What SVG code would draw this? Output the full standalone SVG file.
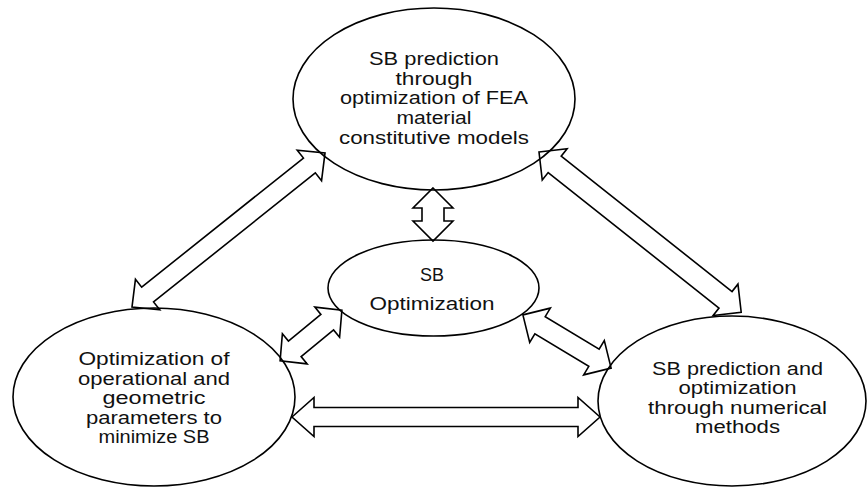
<svg xmlns="http://www.w3.org/2000/svg" width="868" height="488" viewBox="0 0 868 488">
<style>
.node ellipse{fill:#fff;stroke:#000;stroke-width:1.6}
.node text{font-family:"Liberation Sans",Arial,sans-serif;font-size:17.5px;fill:#111;text-anchor:middle}
.arrow{fill:none;stroke:#000;stroke-width:1.6;stroke-linejoin:miter}
</style>
<rect width="868" height="488" fill="#fff"/>
<g id="node-top" class="node">
<ellipse cx="434" cy="99" rx="141" ry="91"/>
<text x="434" y="65" textLength="130" lengthAdjust="spacingAndGlyphs">SB prediction</text>
<text x="434" y="84.7" textLength="77" lengthAdjust="spacingAndGlyphs">through</text>
<text x="434" y="104.4" textLength="188" lengthAdjust="spacingAndGlyphs">optimization of FEA</text>
<text x="434" y="124.1" textLength="75" lengthAdjust="spacingAndGlyphs">material</text>
<text x="434" y="143.8" textLength="190" lengthAdjust="spacingAndGlyphs">constitutive models</text>
</g>
<g id="node-middle" class="node">
<ellipse cx="433.5" cy="288" rx="105.5" ry="48"/>
<text x="432" y="281" textLength="24" lengthAdjust="spacingAndGlyphs">SB</text>
<text x="432" y="310" textLength="125" lengthAdjust="spacingAndGlyphs">Optimization</text>
</g>
<g id="node-left" class="node">
<ellipse cx="154" cy="397" rx="141" ry="89"/>
<text x="154" y="365" textLength="151" lengthAdjust="spacingAndGlyphs">Optimization of</text>
<text x="154" y="384.6" textLength="152" lengthAdjust="spacingAndGlyphs">operational and</text>
<text x="154" y="404.2" textLength="103" lengthAdjust="spacingAndGlyphs">geometric</text>
<text x="154" y="423.8" textLength="136" lengthAdjust="spacingAndGlyphs">parameters to</text>
<text x="154" y="443.4" textLength="111" lengthAdjust="spacingAndGlyphs">minimize SB</text>
</g>
<g id="node-right" class="node">
<ellipse cx="732" cy="401" rx="134" ry="85"/>
<text x="737.5" y="375" textLength="171" lengthAdjust="spacingAndGlyphs">SB prediction and</text>
<text x="737.5" y="394.4" textLength="118" lengthAdjust="spacingAndGlyphs">optimization</text>
<text x="737.5" y="413.8" textLength="179" lengthAdjust="spacingAndGlyphs">through numerical</text>
<text x="737.5" y="433.2" textLength="85" lengthAdjust="spacingAndGlyphs">methods</text>
</g>
<g id="connectors">
<polygon class="arrow" transform="translate(433,214.5) rotate(90)" points="-26.5,0 -6.5,-20 -6.5,-11 6.5,-11 6.5,-20 26.5,0 6.5,20 6.5,11 -6.5,11 -6.5,20"/>
<polygon class="arrow" transform="translate(228.5,230) rotate(-38.6)" points="-123.5,0 -103.5,-19.5 -103.5,-9.5 103.5,-9.5 103.5,-19.5 123.5,0 103.5,19.5 103.5,9.5 -103.5,9.5 -103.5,19.5"/>
<polygon class="arrow" transform="translate(640.1,232.1) rotate(38.4)" points="-129,0 -109,-20 -109,-10.5 109,-10.5 109,-20 129,0 109,20 109,10.5 -109,10.5 -109,20"/>
<polygon class="arrow" transform="translate(311,335.5) rotate(-39.4)" points="-40,0 -21,-19.5 -21,-10 21,-10 21,-19.5 40,0 21,19.5 21,10 -21,10 -21,19.5"/>
<polygon class="arrow" transform="translate(567,341.5) rotate(31.1)" points="-51.5,0 -31.5,-20 -31.5,-10 31.5,-10 31.5,-20 51.5,0 31.5,20 31.5,10 -31.5,10 -31.5,20"/>
<polygon class="arrow" transform="translate(446,417)" points="-154,0 -132,-19.5 -132,-9.5 132,-9.5 132,-19.5 154,0 132,19.5 132,9.5 -132,9.5 -132,19.5"/>
</g>
</svg>
